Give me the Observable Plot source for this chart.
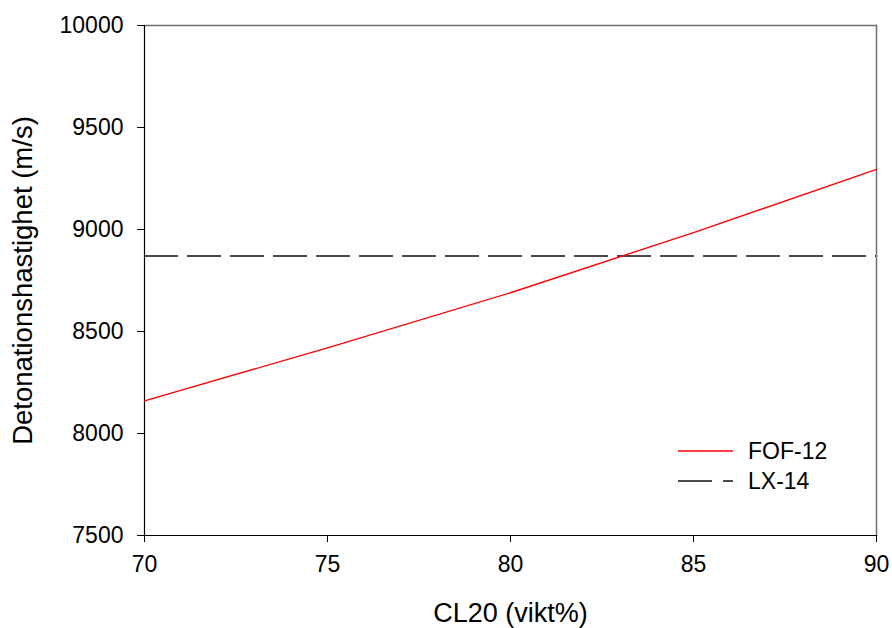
<!DOCTYPE html>
<html>
<head>
<meta charset="utf-8">
<script src="https://cdn.jsdelivr.net/npm/d3@7"></script>
<script src="https://cdn.jsdelivr.net/npm/@observablehq/plot@0.6"></script>
<style>
  html, body { margin: 0; padding: 0; background: #fff; }
  #chart { width: 892px; height: 628px; overflow: hidden; }
  svg { font-family: "Liberation Sans", Arial, sans-serif; }
</style>
</head>
<body>
<div id="chart"></div>
<script>
// Data
const cl20 = [70, 75, 80, 85, 90];
const fof12 = [8160, 8420, 8690, 8985, 9295];
const lx14Value = 8870;
const xTicks = [70, 75, 80, 85, 90];
const yTicks = [7500, 8000, 8500, 9000, 9500, 10000];
const seriesNames = ["FOF-12", "LX-14"];
const xTitle = "CL20 (vikt%)";
const yTitle = "Detonationshastighet (m/s)";

const fofData = cl20.map((x, i) => ({x, y: fof12[i]}));

const W = 892, H = 628;
const mL = 144, mR = 16, mT = 25, mB = 93;

const chart = Plot.plot({
  width: W,
  height: H,
  marginLeft: mL,
  marginRight: mR,
  marginTop: mT,
  marginBottom: mB,
  style: {fontFamily: '"Liberation Sans", Arial, sans-serif', background: "#fff", overflow: "visible"},
  x: {domain: [70, 90], ticks: xTicks, label: null},
  y: {domain: [7500, 10000], ticks: yTicks, label: null},
  marks: [
    Plot.frame({anchor: "top", stroke: "#707070", strokeWidth: 1.5}),
    Plot.frame({anchor: "right", stroke: "#707070", strokeWidth: 1.5}),
    Plot.axisX({ticks: xTicks, tickSize: 7, tickPadding: 13, fontSize: 23, tickFormat: d => String(d), stroke: "#000", color: "#000"}),
    Plot.axisY({ticks: yTicks, tickSize: 7, tickPadding: 14, fontSize: 23, tickFormat: d => String(d), stroke: "#000", color: "#000"}),
    Plot.frame({anchor: "bottom", stroke: "#000", strokeWidth: 1.2}),
    Plot.frame({anchor: "left", stroke: "#000", strokeWidth: 1.2}),
    Plot.ruleY([lx14Value], {stroke: "#111", strokeWidth: 1.6, strokeDasharray: "34,9"}),
    Plot.line(fofData, {x: "x", y: "y", stroke: "#ff0000", strokeWidth: 1.4}),
    Plot.text([xTitle], {frameAnchor: "bottom", textAnchor: "middle", dy: 86, fontSize: 27, fill: "#000"}),
    Plot.text([yTitle], {frameAnchor: "left", textAnchor: "middle", dx: -121, rotate: -90, fontSize: 27.5, fill: "#000"})
  ]
});

document.getElementById("chart").appendChild(chart);

// Legend (inside plot area, lower right)
const svg = d3.select(chart.tagName.toLowerCase() === "svg" ? chart : chart.querySelector("svg"));
const lg = svg.append("g")
  .attr("font-family", '"Liberation Sans", Arial, sans-serif')
  .attr("font-size", 23)
  .attr("text-anchor", "start");
const legendItems = [
  {name: seriesNames[0], stroke: "#ff0000", dash: null, w: 1.4},
  {name: seriesNames[1], stroke: "#111", dash: "34,11", w: 1.6}
];
legendItems.forEach((d, i) => {
  const yy = 451 + i * 30;
  lg.append("line").attr("x1", 678).attr("x2", 733).attr("y1", yy).attr("y2", yy)
    .attr("stroke", d.stroke).attr("stroke-width", d.w)
    .attr("stroke-dasharray", d.dash);
  lg.append("text").attr("x", 748).attr("y", yy).attr("dy", "0.36em")
    .attr("text-anchor", "start").attr("fill", "#000").text(d.name);
});
</script>
</body>
</html>
